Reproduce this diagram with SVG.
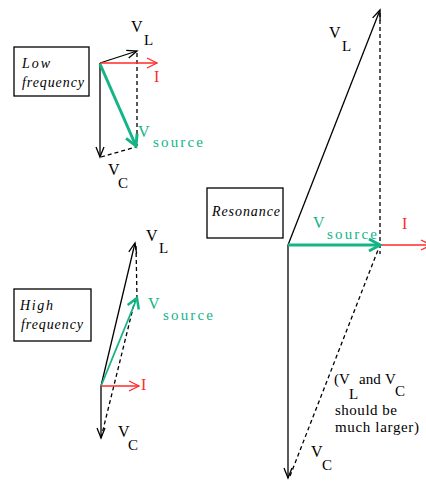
<svg xmlns="http://www.w3.org/2000/svg" width="426" height="481" viewBox="0 0 426 481">
<style>
.box{fill:#fff;stroke:#000;stroke-width:1.3}
.bt{font-family:"Liberation Serif",serif;font-style:italic;font-size:14px;fill:#000}
.k{stroke:#000;stroke-width:1.3;fill:none}
.d{stroke:#000;stroke-width:1.3;fill:none;stroke-dasharray:4 3}
.r{stroke:#ff2a2a;stroke-width:1.5;fill:none}
.g{stroke:#14b487;stroke-width:3;fill:none}
.g2{stroke:#14b487;stroke-width:1.8;fill:none}
.lb{font-family:"Liberation Serif",serif;font-size:16px}
.sb{font-family:"Liberation Serif",serif;font-size:15px}
.nt{font-family:"Liberation Serif",serif;font-size:15px;fill:#000}
</style>
<defs>
<marker id="ak" markerUnits="userSpaceOnUse" orient="auto" overflow="visible" markerWidth="1" markerHeight="1"><path d="M-10,-4 L0,0 L-10,4" fill="none" stroke="#000" stroke-width="1.3"/></marker>
<marker id="ar" markerUnits="userSpaceOnUse" orient="auto" overflow="visible" markerWidth="1" markerHeight="1"><path d="M-10,-5 L0,0 L-10,5" fill="none" stroke="#ff2a2a" stroke-width="1.3"/></marker>
<marker id="ag" markerUnits="userSpaceOnUse" orient="auto" overflow="visible" markerWidth="1" markerHeight="1"><path d="M-11,-6 L0,0 L-11,6" fill="none" stroke="#14b487" stroke-width="3"/></marker>
<marker id="ag2" markerUnits="userSpaceOnUse" orient="auto" overflow="visible" markerWidth="1" markerHeight="1"><path d="M-10,-6 L0,0 L-10,6" fill="none" stroke="#14b487" stroke-width="2.5"/></marker>
</defs>

<g id="low-box"><rect class="box" x="14" y="47" width="75" height="49"/>
<text class="bt" x="22" y="68" textLength="28">Low</text>
<text class="bt" x="22" y="87" textLength="62">frequency</text></g>
<g id="high-box"><rect class="box" x="14" y="289" width="77" height="52"/>
<text class="bt" x="20" y="310" textLength="33">High</text>
<text class="bt" x="21" y="329" textLength="62">frequency</text></g>
<g id="res-box"><rect class="box" x="207" y="188" width="76" height="50"/>
<text class="bt" x="212" y="216" textLength="68">Resonance</text></g>

<g id="connectors">
<!-- low frequency -->
<line class="d" x1="137" y1="53" x2="137" y2="146"/>
<line class="d" x1="101" y1="157" x2="136" y2="147"/>
<line class="k" x1="100" y1="63" x2="137" y2="51" marker-end="url(#ak)"/>
<line class="k" x1="100" y1="63" x2="100" y2="157" marker-end="url(#ak)"/>
<line class="r" x1="100" y1="63" x2="157" y2="63" marker-end="url(#ar)"/>
<line class="g" x1="100" y1="64" x2="136" y2="146" marker-end="url(#ag)"/>
<!-- high frequency -->
<line class="d" x1="136" y1="246" x2="137" y2="298"/>
<line class="d" x1="101" y1="438" x2="136" y2="296"/>
<line class="k" x1="101" y1="386" x2="135" y2="243" marker-end="url(#ak)"/>
<line class="k" x1="101" y1="386" x2="101" y2="438" marker-end="url(#ak)"/>
<line class="g2" x1="101" y1="386" x2="137" y2="298" marker-end="url(#ag2)"/>
<line class="r" x1="101" y1="386" x2="139" y2="386" marker-end="url(#ar)"/>
<!-- resonance -->
<line class="d" x1="380" y1="13" x2="380" y2="254"/>
<line class="d" x1="290" y1="476" x2="378" y2="250"/>
<line class="k" x1="288" y1="245" x2="380" y2="10" marker-end="url(#ak)"/>
<line class="k" x1="288" y1="245" x2="288" y2="478" marker-end="url(#ak)"/>
<line class="r" x1="380" y1="245" x2="431" y2="245" marker-end="url(#ar)"/>
<line class="g" x1="288" y1="245" x2="380" y2="245" marker-end="url(#ag)"/>
</g>

<g id="labels">
<text class="lb" x="131" y="32">V</text><text class="sb" x="144" y="45">L</text>
<text class="lb" x="154" y="82" fill="#ff2a2a">I</text>
<text class="lb" x="138" y="137" fill="#14b487">V</text><text class="sb" x="153" y="147" fill="#14b487" textLength="50">source</text>
<text class="lb" x="108" y="175">V</text><text class="sb" x="118" y="188">C</text>

<text class="lb" x="146" y="241">V</text><text class="sb" x="159" y="253">L</text>
<text class="lb" x="148" y="309" fill="#14b487">V</text><text class="sb" x="163" y="320" fill="#14b487" textLength="50">source</text>
<text class="lb" x="141" y="390" fill="#ff2a2a">I</text>
<text class="lb" x="118" y="437">V</text><text class="sb" x="128" y="450">C</text>

<text class="lb" x="329" y="38">V</text><text class="sb" x="342" y="51">L</text>
<text class="lb" x="313" y="228" fill="#14b487">V</text><text class="sb" x="327" y="239" fill="#14b487" textLength="50">source</text>
<text class="lb" x="402" y="229" fill="#ff2a2a">I</text>
<text class="lb" x="311" y="457">V</text><text class="sb" x="322" y="470">C</text>

<text class="nt" x="334" y="384">(V</text><text class="nt" x="349" y="399" font-size="14">L</text>
<text class="nt" x="359" y="384">and</text><text class="nt" x="385" y="384">V</text><text class="nt" x="395" y="396">C</text>
<text class="nt" x="335" y="415" textLength="62">should be</text>
<text class="nt" x="335" y="432" textLength="84">much larger)</text>
</g>
</svg>
